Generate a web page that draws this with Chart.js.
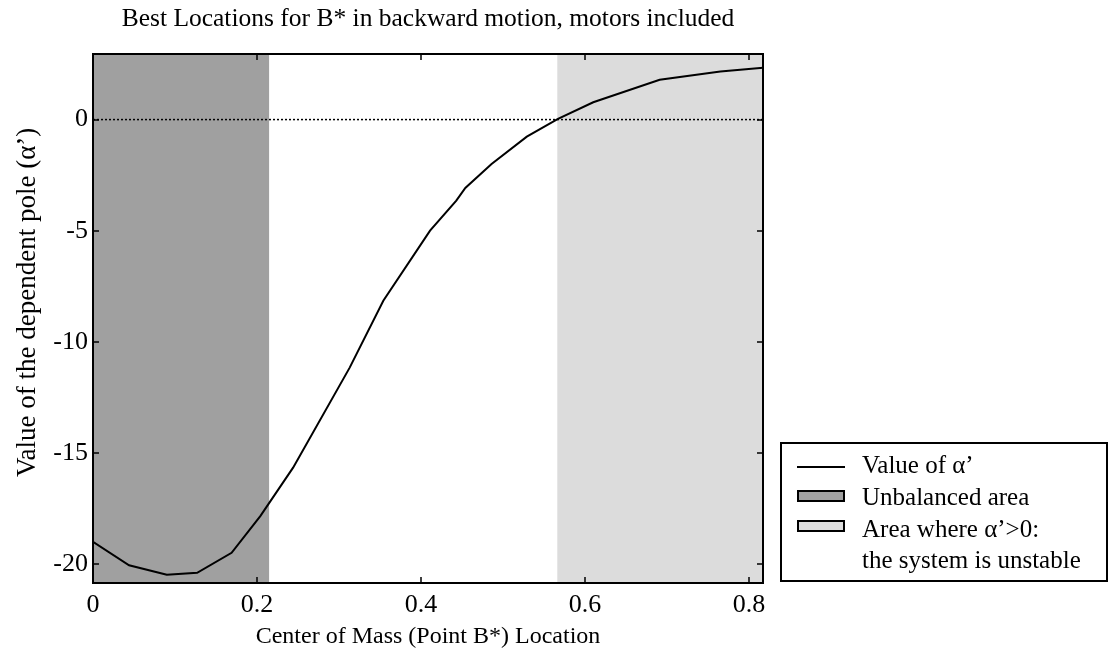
<!DOCTYPE html>
<html>
<head>
<meta charset="utf-8">
<script src="https://cdn.jsdelivr.net/npm/chart.js@4.4.0/dist/chart.umd.min.js"></script>
<style>
  body { margin: 0; background: #fff; }
  #wrap { position: relative; width: 1112px; height: 655px; }
  #legend {
    position: absolute; left: 780px; top: 442px; width: 324px; height: 136px;
    border: 2px solid #000; font-family: 'Liberation Serif', 'Times New Roman', serif;
    font-size: 25px; line-height: 28px; color: #000;
  }
  #legend .row { position: absolute; left: 80px; white-space: nowrap; }
  #legend .key { position: absolute; left: 15px; width: 48px; }
  #legend .box { height: 8px; width: 44px; border: 2px solid #000; }
</style>
</head>
<body>
<div id="wrap">
  <canvas id="chart"></canvas>
  <div id="legend">
    <div class="key" style="top:22px;height:0;border-top:2px solid #000;"></div>
    <div class="row" style="top:7px;">Value of α’</div>
    <div class="key box" style="top:46px;background:#a0a0a0;"></div>
    <div class="row" style="top:39px;">Unbalanced area</div>
    <div class="key box" style="top:76px;background:#dcdcdc;"></div>
    <div class="row" style="top:71px;">Area where α’&gt;0:</div>
    <div class="row" style="top:102px;">the system is unstable</div>
  </div>
</div>
<script>
  // curve
  const xVals     = [0, 0.044, 0.090, 0.127, 0.169, 0.204, 0.244, 0.313, 0.354, 0.411, 0.443, 0.454, 0.486, 0.529, 0.567, 0.610, 0.691, 0.765, 0.817];
  const alphaVals = [-19.0, -20.05, -20.48, -20.39, -19.49, -17.84, -15.66, -11.16, -8.15, -5.0, -3.65, -3.08, -2.0, -0.77, 0.03, 0.78, 1.79, 2.16, 2.33];

  const unbalancedRange = [0, 0.215];
  const unstableRange   = [0.566, 0.817];

  const xTicks = [0, 0.2, 0.4, 0.6, 0.8];
  const yTicks = [-20, -15, -10, -5, 0];

  const X_MIN = 0, X_MAX = 0.817;
  const Y_MIN = -20.85, Y_MAX = 2.95;

  const SERIF = "'Liberation Serif', 'Times New Roman', serif";

  const band = (range, color) => ({
    type: 'line',
    data: range.map(x => ({ x, y: Y_MAX })),
    borderWidth: 0,
    pointRadius: 0,
    backgroundColor: color,
    fill: 'start',
  });

  // inward ticks on all four sides + box frame
  const frame = {
    id: 'frame',
    afterDraw(chart) {
      const { ctx, chartArea: a, scales: { x, y } } = chart;
      ctx.save();
      ctx.strokeStyle = '#000';
      ctx.lineWidth = 1.5;
      ctx.beginPath();
      x.ticks.forEach(t => {
        const px = Math.round(x.getPixelForValue(t.value));
        ctx.moveTo(px, a.bottom); ctx.lineTo(px, a.bottom - 6);
        ctx.moveTo(px, a.top);    ctx.lineTo(px, a.top + 6);
      });
      y.ticks.forEach(t => {
        const py = Math.round(y.getPixelForValue(t.value));
        ctx.moveTo(a.left, py);  ctx.lineTo(a.left + 6, py);
        ctx.moveTo(a.right, py); ctx.lineTo(a.right - 6, py);
      });
      ctx.stroke();
      ctx.lineWidth = 2;
      ctx.strokeRect(a.left, a.top, a.right - a.left, a.bottom - a.top);
      ctx.restore();
    },
  };

  new Chart(document.getElementById('chart'), {
    type: 'line',
    data: {
      datasets: [
        {
          data: xVals.map((x, i) => ({ x, y: alphaVals[i] })),
          borderColor: '#000',
          borderWidth: 2,
          pointRadius: 0,
          tension: 0,
          fill: false,
        },
        {
          data: [{ x: X_MIN, y: 0 }, { x: X_MAX, y: 0 }],
          borderColor: '#000',
          borderWidth: 1.5,
          borderDash: [2, 2],
          pointRadius: 0,
          fill: false,
        },
        band(unbalancedRange, '#a0a0a0'),
        band(unstableRange, '#dcdcdc'),
      ],
    },
    options: {
      responsive: true,
      maintainAspectRatio: false,
      animation: false,
      layout: { padding: { left: 0, right: 349, top: 0, bottom: 0 } },
      plugins: {
        legend: { display: false },
        tooltip: { enabled: false },
        title: {
          display: true,
          fullSize: false,
          text: 'Best Locations for B* in backward motion, motors included',
          color: '#000',
          font: { family: SERIF, size: 25.5, weight: 'normal' },
          padding: { top: 3.5, bottom: 19.9 },
        },
      },
      scales: {
        x: {
          type: 'linear',
          min: X_MIN, max: X_MAX,
          afterBuildTicks: s => { s.ticks = xTicks.map(value => ({ value })); },
          afterFit: s => { s.height = 72; },
          grid: { display: false, drawTicks: false },
          border: { display: false },
          ticks: { color: '#000', padding: 7, font: { family: SERIF, size: 26 } },
          title: {
            display: true,
            text: 'Center of Mass (Point B*) Location',
            color: '#000',
            font: { family: SERIF, size: 24 },
            padding: { top: 0, bottom: 4 },
          },
        },
        y: {
          type: 'linear',
          min: Y_MIN, max: Y_MAX,
          afterBuildTicks: s => { s.ticks = yTicks.map(value => ({ value })); },
          afterFit: s => { s.width = 93; },
          grid: { display: false, drawTicks: false },
          border: { display: false },
          ticks: { color: '#000', padding: 5, font: { family: SERIF, size: 26 } },
          title: {
            display: true,
            // leading spaces nudge the centred label up to where the original sits
            text: '\u2003\u2009Value of the dependent pole (α’)',
            color: '#000',
            font: { family: SERIF, size: 27 },
            padding: { top: 12, bottom: 0 },
          },
        },
      },
    },
    plugins: [frame],
  });
</script>
</body>
</html>
